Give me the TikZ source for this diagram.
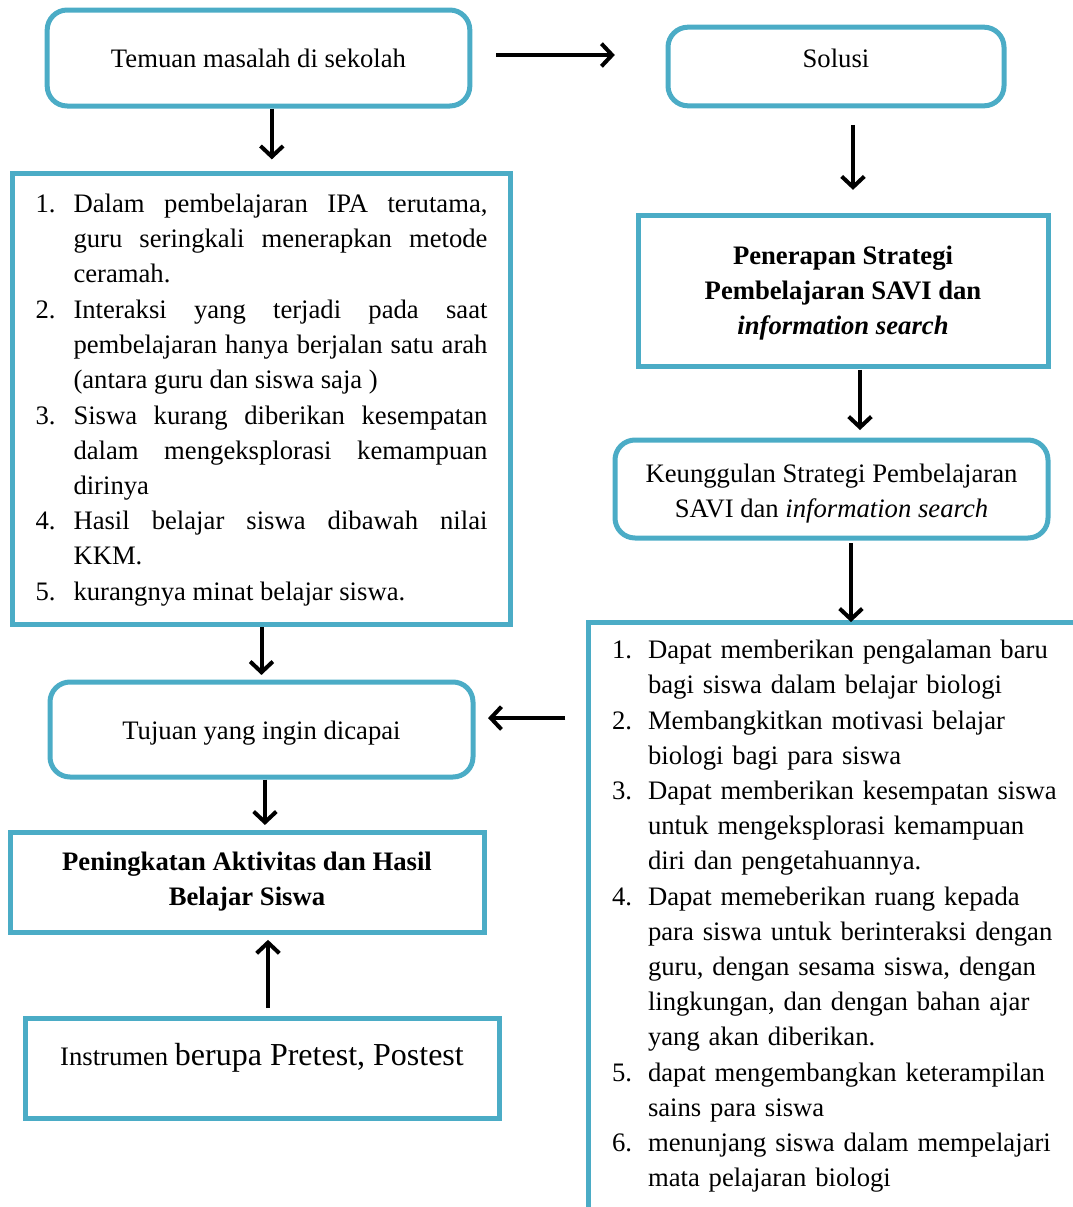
\documentclass[tikz,border=0pt]{standalone}
\usepackage{fontspec}
\setmainfont{Liberation Serif}
\usepackage{enumitem}
\usepackage{tikz}
\usetikzlibrary{arrows.meta}
\definecolor{boxblue}{RGB}{75,172,198}
\tikzstyle{roundbox}=[draw=boxblue,line width=3.75pt,rounded corners=15pt,align=center]
\tikzstyle{flatbox}=[draw=boxblue,line width=3.75pt,align=center]
\tikzstyle{boldtext}=[font=\fontsize{20}{26.25}\selectfont\bfseries]
\tikzstyle{arr}=[-{Straight Barb[length=8pt,width=17pt]},line width=3pt]
\hyphenpenalty=10000
\exhyphenpenalty=10000

\begin{document}
\begin{tikzpicture}[x=0.75pt,y=-0.75pt,font=\fontsize{20}{26.25}\selectfont]
\useasboundingbox (0,0) rectangle (1073,1207);
\clip (0,0) rectangle (1073,1207);

% left column
\node [roundbox,minimum width=317pt,minimum height=72pt] (temuan) at (258.5,58) {Temuan masalah di sekolah};
\node [flatbox,align=justify,text width=339pt,inner xsep=17.6pt,minimum height=337.5pt] (masalah) at (261.5,399) {%
\begin{enumerate}[label=\arabic*.,leftmargin=28.5pt,labelwidth=18.5pt,labelsep=10pt,align=left,nosep,itemsep=0.5pt]
\item Dalam pembelajaran IPA terutama,\linebreak guru seringkali menerapkan metode\linebreak ceramah.
\item Interaksi yang terjadi pada saat\linebreak pembelajaran hanya berjalan satu arah\linebreak (antara guru dan siswa saja )
\item Siswa kurang diberikan kesempatan\linebreak dalam mengeksplorasi kemampuan\linebreak dirinya
\item Hasil belajar siswa dibawah nilai\linebreak KKM.
\item kurangnya minat belajar siswa.
\end{enumerate}\par\kern10.5pt};
\node [roundbox,minimum width=317.25pt,minimum height=71.25pt] (tujuan) at (261.5,729.5) {\rule{0pt}{19pt}Tujuan yang ingin dicapai};
\node [flatbox,boldtext,minimum width=355.5pt,minimum height=75pt] (peningkatan) at (247,882) {Peningkatan Aktivitas dan Hasil\\ Belajar Siswa};
\node [flatbox,minimum width=355.5pt,minimum height=75pt,text depth=20pt] (instrumen) at (262,1068) {Instrumen {\fontsize{24}{28}\selectfont berupa Pretest, Postest}};

% right column
\node [roundbox,minimum width=252pt,minimum height=59pt,text depth=12pt] (solusi) at (836,66.5) {Solusi};
\node [flatbox,boldtext,minimum width=307.5pt,minimum height=113.25pt] (penerapan) at (843,290.5) {\rule{0pt}{18pt}Penerapan Strategi\\ Pembelajaran SAVI dan\\ \textit{information search}};
\node [roundbox,minimum width=324.75pt,minimum height=73.5pt] (keunggulan) at (831.5,489) {\rule{0pt}{21pt}Keunggulan Strategi Pembelajaran\\ SAVI dan \textit{information search}};
\node [flatbox,align=left,anchor=north west,outer sep=0pt,text width=345pt,inner xsep=18pt,inner ysep=1pt,text depth=440pt] (manfaat) at (588,622) {%
\begin{enumerate}[label=\arabic*.,leftmargin=27pt,labelwidth=18pt,labelsep=9pt,align=left,nosep,itemsep=0.5pt]
\item Dapat memberikan pengalaman baru\newline bagi siswa dalam belajar biologi
\item Membangkitkan motivasi belajar\newline biologi bagi para siswa
\item Dapat memberikan kesempatan siswa\newline untuk mengeksplorasi kemampuan\newline diri dan pengetahuannya.
\item Dapat memeberikan ruang kepada\newline para siswa untuk berinteraksi dengan\newline guru, dengan sesama siswa, dengan\newline lingkungan, dan dengan bahan ajar\newline yang akan diberikan.
\item dapat mengembangkan keterampilan\newline sains para siswa
\item menunjang siswa dalam mempelajari\newline mata pelajaran biologi
\end{enumerate}};

% arrows
\coordinate (a1) at ([yshift=2.25pt]temuan.east);
\draw [arr,shorten <=18pt,shorten >=38pt] (a1) -- (a1 -| solusi.west);
\coordinate (b1) at ([xshift=12.75pt]solusi.south);
\draw [arr,shorten <=12.4pt,shorten >=17pt] (b1) -- (b1 |- penerapan.north);
\coordinate (c1) at ([xshift=12.75pt]penerapan.south);
\draw [arr,shorten <=1pt,shorten >=5.6pt] (c1) -- (c1 |- keunggulan.north);
\coordinate (d1) at ([xshift=14.6pt]keunggulan.south);
\draw [arr,shorten <=2pt] (d1) -- (d1 |- manfaat.north);
\coordinate (e1) at ([yshift=8.6pt]tujuan.east);
\draw [arr,shorten <=17pt,shorten >=9.4pt] (e1 -| manfaat.west) -- (e1);
\coordinate (f1) at ([xshift=10pt]temuan.south);
\draw [arr,shorten >=8.6pt] (f1) -- (f1 |- masalah.north);
\draw [arr,shorten >=3.4pt] (masalah.south) -- (masalah.south |- tujuan.north);
\coordinate (g1) at ([xshift=2.6pt]tujuan.south);
\draw [arr,shorten >=3.4pt] (g1) -- (g1 |- peningkatan.north);
\coordinate (h1) at ([xshift=4.5pt]instrumen.north);
\draw [arr,shorten <=5.6pt,shorten >=4pt] (h1) -- (h1 |- peningkatan.south);
\end{tikzpicture}
\end{document}
